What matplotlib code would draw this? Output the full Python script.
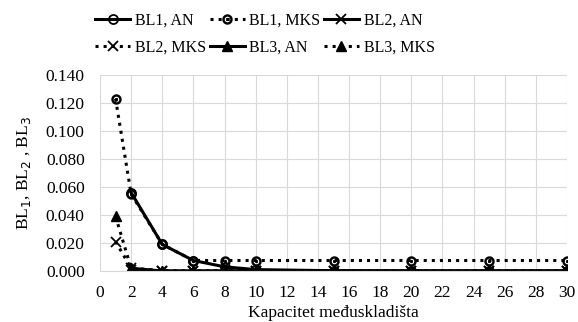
import matplotlib.pyplot as plt
import numpy as np

plt.rcParams['font.family'] = ['Liberation Serif', 'DejaVu Serif']
plt.rcParams['font.size'] = 12.5

x_mks = [1, 2, 4, 6, 8, 10, 15, 20, 25, 30]
x_an = [2, 4, 6, 8, 10, 15, 20, 25, 30]

bl1_an = [0.056, 0.019, 0.0075, 0.003, 0.001, 0.0002, 0.0, 0.0, 0.0]
bl1_mks = [0.123, 0.055, 0.019, 0.0075, 0.0075, 0.0075, 0.0075, 0.0075, 0.0075, 0.0075]
bl2_an = [0.001, 0.0, 0.0, 0.0, 0.0, 0.0, 0.0, 0.0, 0.0]
bl2_mks = [0.021, 0.002, 0.0, 0.0, 0.0, 0.0, 0.0, 0.0, 0.0, 0.0]
bl3_an = [0.002, 0.0, 0.0, 0.0, 0.0, 0.0, 0.0, 0.0, 0.0]
bl3_mks = [0.039, 0.002, 0.0, 0.0, 0.0, 0.0, 0.0, 0.0, 0.0, 0.0]

fig = plt.figure(figsize=(5.78, 3.22), dpi=100)
ax = fig.add_axes([100 / 578, 1 - 271 / 322, 467 / 578, 196 / 322])

solid = dict(color='black', linestyle='-', linewidth=2.2, markersize=6.5)
dotted = dict(color='black', linestyle=':', linewidth=2.2, markersize=6.5)

ax.plot(x_an, bl1_an, marker='o', markerfacecolor='none', markeredgewidth=1.3, label='BL1, AN', **solid)
ax.plot(x_mks, bl1_mks, marker='$\\odot$', label='BL1, MKS', **dotted)
ax.plot(x_an, bl2_an, marker='x', markeredgewidth=1.3, label='BL2, AN', **solid)
ax.plot(x_mks, bl2_mks, marker='x', markeredgewidth=1.3, label='BL2, MKS', **dotted)
ax.plot(x_an, bl3_an, marker='^', label='BL3, AN', **solid)
ax.plot(x_mks, bl3_mks, marker='^', label='BL3, MKS', **dotted)

ax.set_xlim(0, 30)
ax.set_ylim(0, 0.14)
ax.set_xticks(np.arange(0, 31, 2))
ax.set_yticks(np.arange(0, 0.141, 0.02))
ax.yaxis.set_major_formatter(plt.FuncFormatter(lambda v, p: f'{v:.3f}'))
ax.grid(True, color='#d9d9d9', linewidth=0.8)
ax.set_axisbelow(True)
for s in ['top', 'right', 'left']:
    ax.spines[s].set_visible(False)
ax.spines['bottom'].set_color('#d9d9d9')
ax.tick_params(axis='x', length=0, pad=10)
ax.tick_params(axis='y', length=0, pad=11)

ax.set_xlabel('Kapacitet međuskladišta', labelpad=3)
ax.set_ylabel('BL$_1$, BL$_2$ , BL$_3$', labelpad=9)

# row-wise legend order like the original
h, l = ax.get_legend_handles_labels()
order = [0, 3, 1, 4, 2, 5]
fig.legend([h[i] for i in order], [l[i] for i in order],
           loc='upper center', bbox_to_anchor=(265 / 578, 1.0), ncol=3, frameon=False,
           fontsize=11.5, handlelength=2.2, columnspacing=0.2, handletextpad=0.3,
           labelspacing=0.7, borderpad=0.3)

fig.savefig('out.png', dpi=100)
